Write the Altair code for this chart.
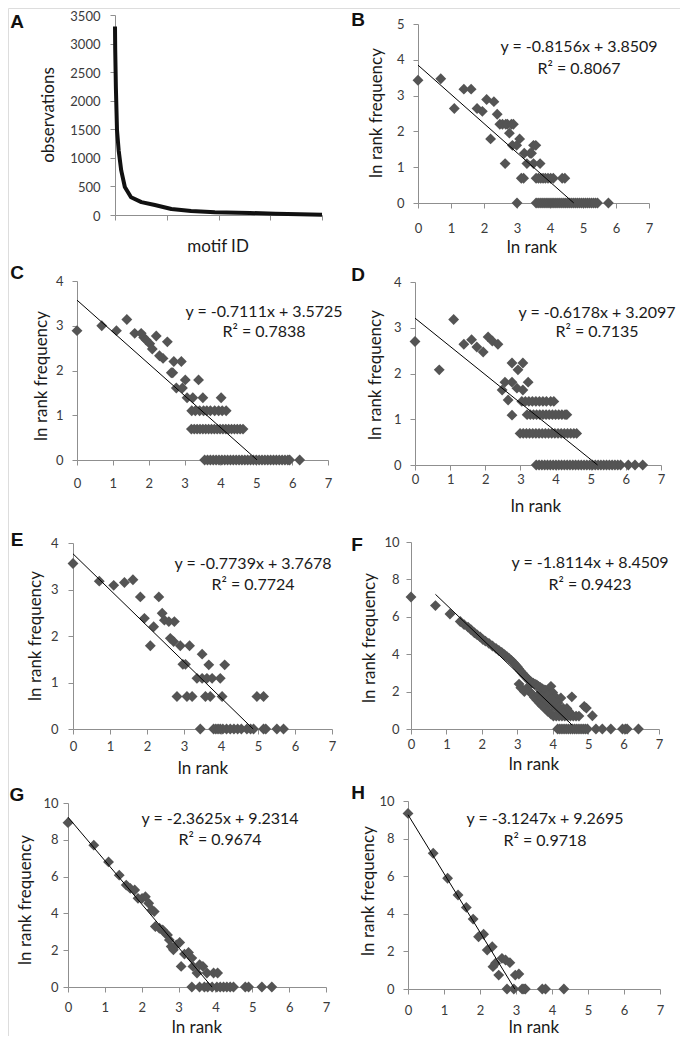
import altair as alt
import pandas as pd

# ---------------- data ----------------
# Panel A: observations per motif (ranked)
motif_id = [0, 0.4, 1.7, 3.9, 7.1, 12, 19, 31, 51, 77, 109, 147, 193, 261, 310, 357, 400]
observations = [3300, 2900, 2230, 1480, 1130, 780, 490, 310, 226, 174, 104, 70, 47, 35, 22, 12, 5]

# Panels B-H: (ln rank, ln rank frequency)
B_points = [(0.00, 3.43), (0.69, 3.47), (1.10, 2.64), (1.39, 3.18), (1.61, 3.18), (1.79, 2.64),
            (1.95, 2.56), (2.08, 2.89), (2.20, 1.79), (2.30, 2.83), (2.40, 2.48), (2.48, 2.20),
            (2.56, 2.20), (2.64, 1.10), (2.66, 2.20), (2.71, 2.20), (2.77, 1.95), (2.83, 2.20),
            (2.86, 1.61), (2.89, 2.20), (2.99, 1.61), (3.00, 0.00), (3.08, 1.79), (3.13, 0.69),
            (3.20, 0.69), (3.22, 1.39), (3.30, 1.10), (3.40, 1.39), (3.44, 1.39), (3.50, 1.61),
            (3.50, 1.10), (3.57, 1.61), (3.70, 1.10), (3.58, 0.69), (3.65, 0.69), (3.72, 0.69),
            (3.79, 0.69), (3.86, 0.69), (3.94, 0.69), (4.02, 0.69), (4.10, 0.69), (4.37, 0.69),
            (4.45, 0.69)]
B_zero_x = [3.58, 3.64, 3.70, 3.76, 3.82, 3.88, 3.94, 4.00, 4.06, 4.12, 4.18, 4.24, 4.30, 4.36,
            4.42, 4.48, 4.54, 4.60, 4.66, 4.72, 4.78, 4.84, 4.90, 4.96, 5.02, 5.08, 5.14, 5.20,
            5.26, 5.32, 5.38, 5.44, 5.77]

C_points = [(0.00, 2.89), (0.69, 3.00), (1.10, 2.89), (1.39, 3.14), (1.61, 2.83), (1.79, 2.83),
            (1.86, 2.74), (1.93, 2.68), (2.03, 2.60), (2.10, 2.48), (2.21, 2.77), (2.30, 2.33),
            (2.40, 2.27), (2.52, 2.64), (2.63, 1.95), (2.67, 1.95), (2.70, 2.20), (2.77, 1.61),
            (2.91, 2.20), (2.94, 1.61), (3.02, 1.79), (3.07, 1.39), (3.23, 1.39), (3.39, 1.79),
            (3.51, 1.39), (4.02, 1.39),
            (3.20, 1.10), (3.30, 1.10), (3.42, 1.10), (3.53, 1.10), (3.62, 1.10), (3.72, 1.10),
            (3.84, 1.10), (3.95, 1.10), (4.05, 1.10), (4.16, 1.10),
            (3.19, 0.69), (3.27, 0.69), (3.35, 0.69), (3.43, 0.69), (3.51, 0.69), (3.59, 0.69),
            (3.67, 0.69), (3.75, 0.69), (3.83, 0.69), (3.91, 0.69), (3.99, 0.69), (4.07, 0.69),
            (4.15, 0.69), (4.23, 0.69), (4.31, 0.69), (4.39, 0.69), (4.47, 0.69), (4.55, 0.69),
            (4.63, 0.69)]
C_zero_x = [3.56, 3.64, 3.72, 3.80, 3.88, 3.96, 4.04, 4.12, 4.20, 4.28, 4.36, 4.44, 4.52, 4.60,
            4.68, 4.76, 4.84, 4.92, 5.00, 5.08, 5.16, 5.24, 5.32, 5.40, 5.48, 5.56, 5.64, 5.72,
            5.80, 5.88, 5.93, 6.21]

D_points = [(0.00, 2.70), (0.69, 2.08), (1.10, 3.18), (1.39, 2.64), (1.61, 2.74), (1.76, 2.58),
            (1.94, 2.47), (2.08, 2.80), (2.20, 2.71), (2.36, 2.64), (2.48, 1.64), (2.56, 1.81),
            (2.65, 1.42), (2.76, 2.23), (2.76, 1.81), (2.76, 1.09), (2.90, 1.68), (2.93, 2.08),
            (3.07, 2.23), (3.07, 1.64), (3.22, 1.81),
            (3.04, 1.39), (3.14, 1.39), (3.24, 1.39), (3.34, 1.39), (3.44, 1.39), (3.54, 1.39),
            (3.64, 1.39), (3.74, 1.39), (3.86, 1.39), (3.95, 1.39),
            (3.19, 1.10), (3.28, 1.10), (3.37, 1.10), (3.46, 1.10), (3.55, 1.10), (3.64, 1.10),
            (3.73, 1.10), (3.82, 1.10), (3.91, 1.10), (4.00, 1.10), (4.09, 1.10), (4.18, 1.10),
            (4.27, 1.10), (4.32, 1.10),
            (2.99, 0.69), (3.08, 0.69), (3.17, 0.69), (3.26, 0.69), (3.35, 0.69), (3.44, 0.69),
            (3.53, 0.69), (3.62, 0.69), (3.71, 0.69), (3.80, 0.69), (3.89, 0.69), (3.98, 0.69),
            (4.07, 0.69), (4.16, 0.69), (4.25, 0.69), (4.34, 0.69), (4.43, 0.69), (4.52, 0.69),
            (4.60, 0.69)]
D_zero_x = [3.45, 3.53, 3.61, 3.69, 3.77, 3.85, 3.93, 4.01, 4.09, 4.17, 4.25, 4.33, 4.41, 4.49,
            4.57, 4.65, 4.73, 4.81, 4.89, 4.97, 5.05, 5.13, 5.21, 5.29, 5.37, 5.45, 5.53, 5.61,
            5.69, 5.77, 5.85, 6.07, 6.26, 6.48]

E_points = [(0.00, 3.56), (0.71, 3.18), (1.10, 3.09), (1.39, 3.15), (1.62, 3.21), (1.82, 2.84),
            (1.93, 2.38), (2.09, 1.79), (2.18, 2.20), (2.32, 2.84), (2.41, 2.49), (2.47, 2.34),
            (2.59, 2.31), (2.74, 2.31), (2.63, 1.95), (2.72, 1.88), (2.81, 0.70), (2.90, 1.79),
            (2.97, 1.39), (3.04, 1.39), (3.15, 1.79), (3.08, 0.70), (3.22, 0.70), (3.35, 1.09),
            (3.49, 1.61), (3.49, 1.09), (3.58, 0.70), (3.62, 1.09), (3.67, 1.38), (3.76, 1.09),
            (3.71, 0.70), (3.98, 1.09), (4.03, 0.70), (4.10, 1.38), (4.97, 0.70), (5.15, 0.70)]
E_zero_x = [3.44, 3.80, 3.86, 3.92, 3.98, 4.05, 4.15, 4.25, 4.35, 4.45, 4.55, 4.70, 4.80, 4.88,
            5.15, 5.21, 5.51, 5.69]

F_points = [(0.00, 7.06), (0.69, 6.60), (1.10, 6.15), (1.39, 5.75), (1.50, 5.58), (1.61, 5.45),
            (1.70, 5.30), (1.79, 5.15), (1.87, 5.03), (1.95, 4.93), (2.03, 4.78), (2.10, 4.70),
            (2.20, 4.58), (2.30, 4.44), (2.40, 4.31), (2.48, 4.20), (2.56, 4.10), (2.64, 3.97),
            (2.71, 3.87), (2.77, 3.77), (2.83, 3.67), (2.89, 3.56), (2.94, 3.45), (3.00, 3.33),
            (3.04, 3.22), (3.09, 3.10), (3.14, 3.00), (3.18, 2.90), (3.22, 2.82), (3.26, 2.76),
            (3.30, 2.66), (3.33, 2.60), (3.37, 2.55), (3.40, 2.50), (3.45, 2.45), (3.50, 2.40),
            (3.55, 2.35), (3.60, 2.28), (3.65, 2.22), (3.70, 2.16), (3.75, 2.10), (3.80, 2.08),
            (3.85, 2.05), (3.90, 2.00), (3.95, 2.28), (4.00, 1.95), (4.06, 1.75), (4.23, 1.66),
            (4.54, 1.72), (4.89, 1.21), (4.95, 1.12), (5.12, 0.71),
            (3.05, 2.40), (3.10, 2.20), (3.20, 2.00), (3.28, 2.20), (3.35, 2.00), (3.42, 1.85),
            (3.48, 1.70), (3.55, 1.55), (3.62, 1.40), (3.70, 1.25), (3.78, 1.10), (3.86, 0.95),
            (3.95, 0.80), (4.02, 0.69), (4.10, 0.69), (4.18, 0.69), (4.26, 0.69), (4.34, 0.69),
            (4.42, 0.69), (4.50, 0.69), (4.58, 0.69), (4.66, 0.69), (4.74, 0.69), (3.60, 1.85),
            (3.70, 1.70), (3.80, 1.55), (3.90, 1.40), (4.00, 1.25), (4.10, 1.10), (4.20, 1.10),
            (4.30, 1.10), (4.40, 1.10), (4.15, 1.39), (3.85, 1.80), (3.95, 1.60), (4.05, 1.45),
            (4.45, 0.95), (4.30, 0.85)]
F_zero_x = [4.14, 4.20, 4.26, 4.32, 4.38, 4.44, 4.50, 4.56, 4.62, 4.68, 4.74, 4.80, 4.86, 4.92,
            4.98, 5.22, 5.40, 5.64, 5.97, 6.05, 6.10, 6.42]

G_points = [(0.00, 8.93), (0.70, 7.71), (1.10, 6.80), (1.39, 6.08), (1.58, 5.54), (1.69, 5.36),
            (1.81, 5.27), (1.90, 4.82), (2.01, 4.82), (2.10, 4.91), (2.19, 4.55), (2.28, 4.19),
            (2.34, 4.10), (2.37, 3.29), (2.48, 3.19), (2.57, 3.10), (2.64, 2.92), (2.70, 2.83),
            (2.75, 2.56), (2.80, 2.20), (2.86, 2.02), (2.94, 2.29), (3.03, 2.42), (3.07, 1.12),
            (3.16, 1.79), (3.27, 1.88), (3.36, 1.57), (3.39, 1.12), (3.50, 0.76), (3.57, 1.21),
            (3.66, 1.12), (3.77, 0.76), (3.95, 0.76), (4.06, 0.76)]
G_zero_x = [3.36, 3.57, 3.70, 3.79, 3.91, 4.04, 4.13, 4.22, 4.31, 4.40, 4.49, 4.81, 4.90, 5.26,
            5.53]

H_points = [(0.00, 9.34), (0.70, 7.22), (1.10, 5.89), (1.39, 5.00), (1.62, 4.34), (1.81, 3.72),
            (1.96, 2.78), (2.10, 2.91), (2.20, 2.07), (2.34, 2.25), (2.36, 1.19), (2.43, 1.37),
            (2.52, 0.74), (2.61, 1.63), (2.71, 1.54), (2.83, 1.40), (2.98, 0.74), (3.08, 0.80)]
H_zero_x = [2.75, 2.94, 3.17, 3.22, 3.26, 3.73, 3.82, 4.33]

panels = ["B", "C", "D", "E", "F", "G", "H"]
points = {"B": B_points, "C": C_points, "D": D_points, "E": E_points,
          "F": F_points, "G": G_points, "H": H_points}
zeros = {"B": B_zero_x, "C": C_zero_x, "D": D_zero_x, "E": E_zero_x,
         "F": F_zero_x, "G": G_zero_x, "H": H_zero_x}
slope = {"B": -0.8156, "C": -0.7111, "D": -0.6178, "E": -0.7739, "F": -1.8114, "G": -2.3625, "H": -3.1247}
intercept = {"B": 3.8509, "C": 3.5725, "D": 3.2097, "E": 3.7678, "F": 8.4509, "G": 9.2314, "H": 9.2695}
r_squared = {"B": "0.8067", "C": "0.7838", "D": "0.7135", "E": "0.7724", "F": "0.9423", "G": "0.9674", "H": "0.9718"}
fit_start = {"B": 0, "C": 0, "D": 0, "E": 0, "F": 0.69, "G": 0, "H": 0}
fit_end = {"B": 4.72, "C": 5.02, "D": 5.195, "E": 4.87, "F": 4.55, "G": 3.91, "H": 2.97}
y_ticks = {"B": [0, 1, 2, 3, 4, 5], "C": [0, 1, 2, 3, 4], "D": [0, 1, 2, 3, 4], "E": [0, 1, 2, 3, 4],
           "F": [0, 2, 4, 6, 8, 10], "G": [0, 2, 4, 6, 8, 10], "H": [0, 2, 4, 6, 8, 10]}
x_ticks = [0, 1, 2, 3, 4, 5, 6, 7]
A_x_ticks = [0, 100, 200, 300, 400]
A_y_ticks = [0, 500, 1000, 1500, 2000, 2500, 3000, 3500]

# ---------------- layout (page pixels) ----------------
OFFX = 8          # page margin
OFFY = 8
W, H = 672, 1028
box = {  # left(x=min), right(x=max), bottom(y=0), top(y=max)
    "A": (115, 322, 215, 15),
    "B": (418, 649, 203, 24),
    "C": (77, 328, 460, 281),
    "D": (415, 661, 465, 282),
    "E": (73, 332, 729, 543),
    "F": (411, 659, 729, 542),
    "G": (68, 326, 987, 803),
    "H": (408, 660, 989, 801),
}
xpad = {"B": 14, "C": 12, "D": 3, "E": 6, "F": 4, "G": 9, "H": 10}
ypad = {"A": 10, "B": 9, "C": 9, "D": 9, "E": 10, "F": 7, "G": 5, "H": 9}
letters = {"A": (17, 22), "B": (358, 20), "C": (17, 273), "D": (358, 275),
           "E": (17, 540), "F": (357, 545), "G": (17, 795), "H": (358, 793)}
eq_pos = {"B": (579, 47, 69), "C": (264, 312, 332), "D": (597, 313, 332), "E": (253, 564, 585),
          "F": (590, 563, 585), "G": (220, 819, 840), "H": (545, 819, 841)}
ytitle_pos = {"A": (49, 115), "B": (377, 113), "C": (42, 376), "D": (376, 375), "E": (36, 636),
              "F": (370, 638), "G": (26, 900), "H": (369, 891)}
xtitle_pos = {"A": (218, 247), "B": (532, 248), "D": (536, 507), "E": (203, 769), "F": (534, 765),
              "G": (197, 1028), "H": (534, 1028)}

FONT = "Lato"
AX_COLOR = "#8f8f8f"
LABEL_COLOR = "#3a3a3a"
PT_COLOR = "#545454"


def axis_common(**kw):
    return alt.Axis(title=None, grid=False, tickSize=5, tickColor=AX_COLOR, domainColor=AX_COLOR,
                    labelFont=FONT, labelFontSize=13, labelColor=LABEL_COLOR, labelFlush=False,
                    labelOverlap=False, format="d", **kw)


def vx(v):
    return v - OFFX


def vy(v):
    return v - OFFY


layers = []

# ---- Panel A ----
l, r, b, t = box["A"]
ax_x = alt.Scale(domain=[0, 400], range=[vx(l), vx(r)], nice=False, zero=False)
ax_y = alt.Scale(domain=[0, 3500], range=[vy(b), vy(t)], nice=False, zero=False)
dfA = pd.DataFrame({"motif": motif_id, "obs": observations})
layers.append(
    alt.Chart(dfA).mark_line(color="#111111", strokeWidth=4, strokeJoin="round").encode(
        x=alt.X("motif:Q", scale=ax_x,
                axis=axis_common(orient="bottom", offset=vy(b) - H, values=A_x_ticks, labels=False)),
        y=alt.Y("obs:Q", scale=ax_y,
                axis=axis_common(orient="left", offset=-vx(l), values=A_y_ticks,
                                 labelPadding=ypad["A"], labelOffset=1)),
    )
)

# ---- Panels B-H ----
for p in panels:
    l, r, b, t = box[p]
    xs = alt.Scale(domain=[0, 7], range=[vx(l), vx(r)], nice=False, zero=False)
    ys = alt.Scale(domain=[0, y_ticks[p][-1]], range=[vy(b), vy(t)], nice=False, zero=False)
    pts = list(points[p]) + [(zx, 0.0) for zx in zeros[p]]
    df = pd.DataFrame(pts, columns=["lnrank", "lnfreq"])
    layers.append(
        alt.Chart(df).mark_point(shape="diamond", filled=True, size=118, color=PT_COLOR,
                                 opacity=1, strokeWidth=0).encode(
            x=alt.X("lnrank:Q", scale=xs,
                    axis=axis_common(orient="bottom", offset=vy(b) - H, values=x_ticks,
                                     labelPadding=xpad[p])),
            y=alt.Y("lnfreq:Q", scale=ys,
                    axis=axis_common(orient="left", offset=-vx(l), values=y_ticks[p],
                                     labelPadding=ypad[p])),
        )
    )
    x0, x1 = fit_start[p], fit_end[p]
    fit = pd.DataFrame({"lnrank": [x0, x1],
                        "lnfreq": [slope[p] * x0 + intercept[p], slope[p] * x1 + intercept[p]]})
    layers.append(
        alt.Chart(fit).mark_line(color="#000000", strokeWidth=1).encode(
            x=alt.X("lnrank:Q", scale=xs, axis=None),
            y=alt.Y("lnfreq:Q", scale=ys, axis=None),
        )
    )

# ---- text: equations ----
eq_rows = []
for p in panels:
    cx, y1, y2 = eq_pos[p]
    sign = "-" if slope[p] < 0 else ""
    eq_rows.append({"px": vx(cx), "py": vy(y1),
                    "txt": f"y = {sign}{abs(slope[p]):.4f}x + {intercept[p]:.4f}"})
    eq_rows.append({"px": vx(cx), "py": vy(y2), "txt": f"R\u00b2 = {r_squared[p]}"})
layers.append(
    alt.Chart(pd.DataFrame(eq_rows)).mark_text(font=FONT, fontSize=16, color="#1a1a1a",
                                               align="center", baseline="middle").encode(
        x=alt.X("px:Q", scale=None), y=alt.Y("py:Q", scale=None), text="txt:N")
)

# ---- text: axis titles ----
yt_rows = [{"px": vx(v[0]), "py": vy(v[1]),
            "txt": "observations" if k == "A" else "ln rank frequency"} for k, v in ytitle_pos.items()]
layers.append(
    alt.Chart(pd.DataFrame(yt_rows)).mark_text(font=FONT, fontSize=17, color="#1a1a1a", angle=270,
                                               align="center", baseline="middle").encode(
        x=alt.X("px:Q", scale=None), y=alt.Y("py:Q", scale=None), text="txt:N")
)
xt_rows = [{"px": vx(v[0]), "py": vy(v[1]),
            "txt": "motif ID" if k == "A" else "ln rank"} for k, v in xtitle_pos.items()]
layers.append(
    alt.Chart(pd.DataFrame(xt_rows)).mark_text(font=FONT, fontSize=17, color="#1a1a1a",
                                               align="center", baseline="middle").encode(
        x=alt.X("px:Q", scale=None), y=alt.Y("py:Q", scale=None), text="txt:N")
)

# ---- text: panel letters ----
lt_rows = [{"px": vx(v[0]), "py": vy(v[1]), "txt": k} for k, v in letters.items()]
layers.append(
    alt.Chart(pd.DataFrame(lt_rows)).mark_text(font="Liberation Sans", fontSize=19, fontWeight="bold",
                                               color="#111111", align="center", baseline="middle").encode(
        x=alt.X("px:Q", scale=None), y=alt.Y("py:Q", scale=None), text="txt:N")
)

chart = alt.layer(*layers).resolve_scale(x="independent", y="independent").properties(
    width=W, height=H, padding=0, autosize=alt.AutoSizeParams(type="none")
).configure_view(stroke=None).configure(background="white")

chart.save("out.html", embed_options={"renderer": "svg", "actions": False})
